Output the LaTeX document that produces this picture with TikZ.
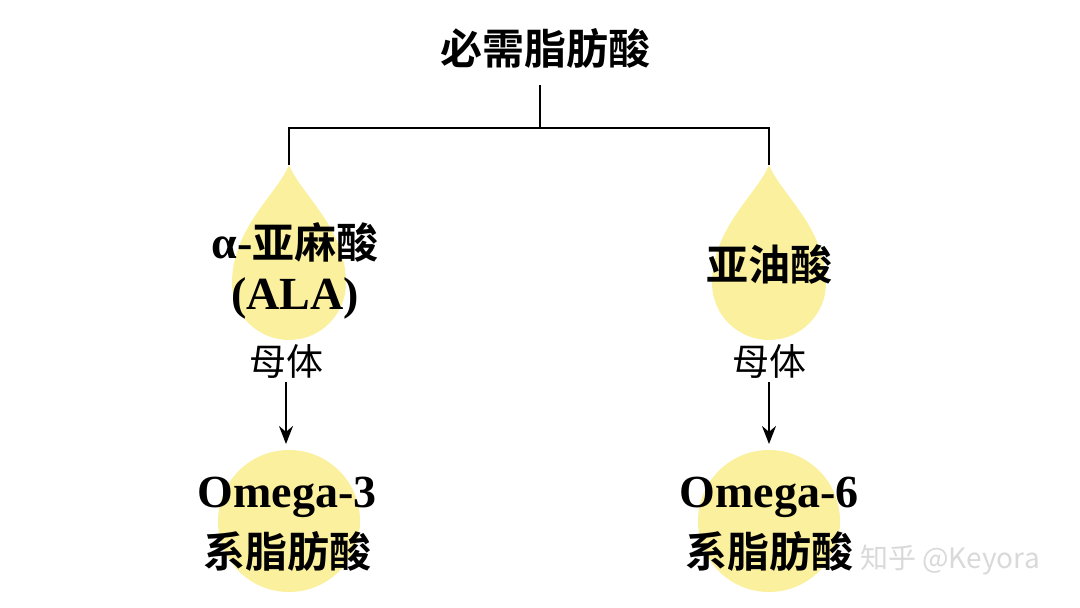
\documentclass[tikz,border=0pt]{standalone}
\usepackage{fontspec}
\setmainfont{Liberation Serif}
\newfontfamily\cjk{Noto Sans CJK SC}
\newfontfamily\cjkb{Noto Sans CJK SC Bold}
\usetikzlibrary{arrows.meta}
\definecolor{drop}{HTML}{FBF09E}
\newcommand{\lat}[1]{{\fontsize{46}{50}\selectfont\rmfamily\bfseries #1}}
\tikzset{
  lbl/.style={font=\fontsize{42}{46}\selectfont\cjkb, inner sep=0pt},
  sml/.style={font=\fontsize{37}{40}\selectfont\cjk, fill=white, inner sep=3pt},
  ln/.style={line width=2pt},
  ar/.style={line width=2pt,-{Stealth[length=18pt,width=14pt]}}
}
\begin{document}
\begin{tikzpicture}[x=1pt,y=1pt]
\useasboundingbox (0,0) rectangle (1080,608);
\foreach \cx in {289,769}{
  \fill[drop] (\cx,443) .. controls (\cx+11,415) and (\cx+57,380) .. (\cx+57,325)
    arc[start angle=0,end angle=-180,radius=57]
    .. controls (\cx-57,380) and (\cx-11,415) .. (\cx,443) -- cycle;
  \fill[drop] (\cx,87) circle (71);
}
\node[lbl] (t) at (545,560) {必需脂肪酸};
\coordinate (j) at (540,480);
\coordinate (l) at (289,443);
\coordinate (r) at (769,443);
\draw[ln] (540,523) -- (j);
\draw[ln] (l) -- (289,480) -- (769,480) -- (r);
\node[lbl] (a1) at (295,365) {\lat{α-}亚麻酸};
\node[lbl] (a2) at (295,310) {\lat{(ALA)}};
\node[lbl] (b1) at (769,343) {亚油酸};
\node[sml] (m1) at (286,246) {母体};
\node[sml] (m2) at (769,246) {母体};
\node[lbl] (o3) at (287,111) {\lat{Omega-3}};
\node[lbl] (f3) at (287,57) {系脂肪酸};
\node[lbl] (o6) at (769,111) {\lat{Omega-6}};
\node[lbl] (f6) at (769,57) {系脂肪酸};
\draw[ar] (m1.south) -- (286,164);
\draw[ar] (m2.south) -- (769,164);
\node[font=\fontsize{28}{32}\selectfont\cjk, text=black!15] (wm) at (950,48) {知乎 @Keyora};
\end{tikzpicture}
\end{document}
